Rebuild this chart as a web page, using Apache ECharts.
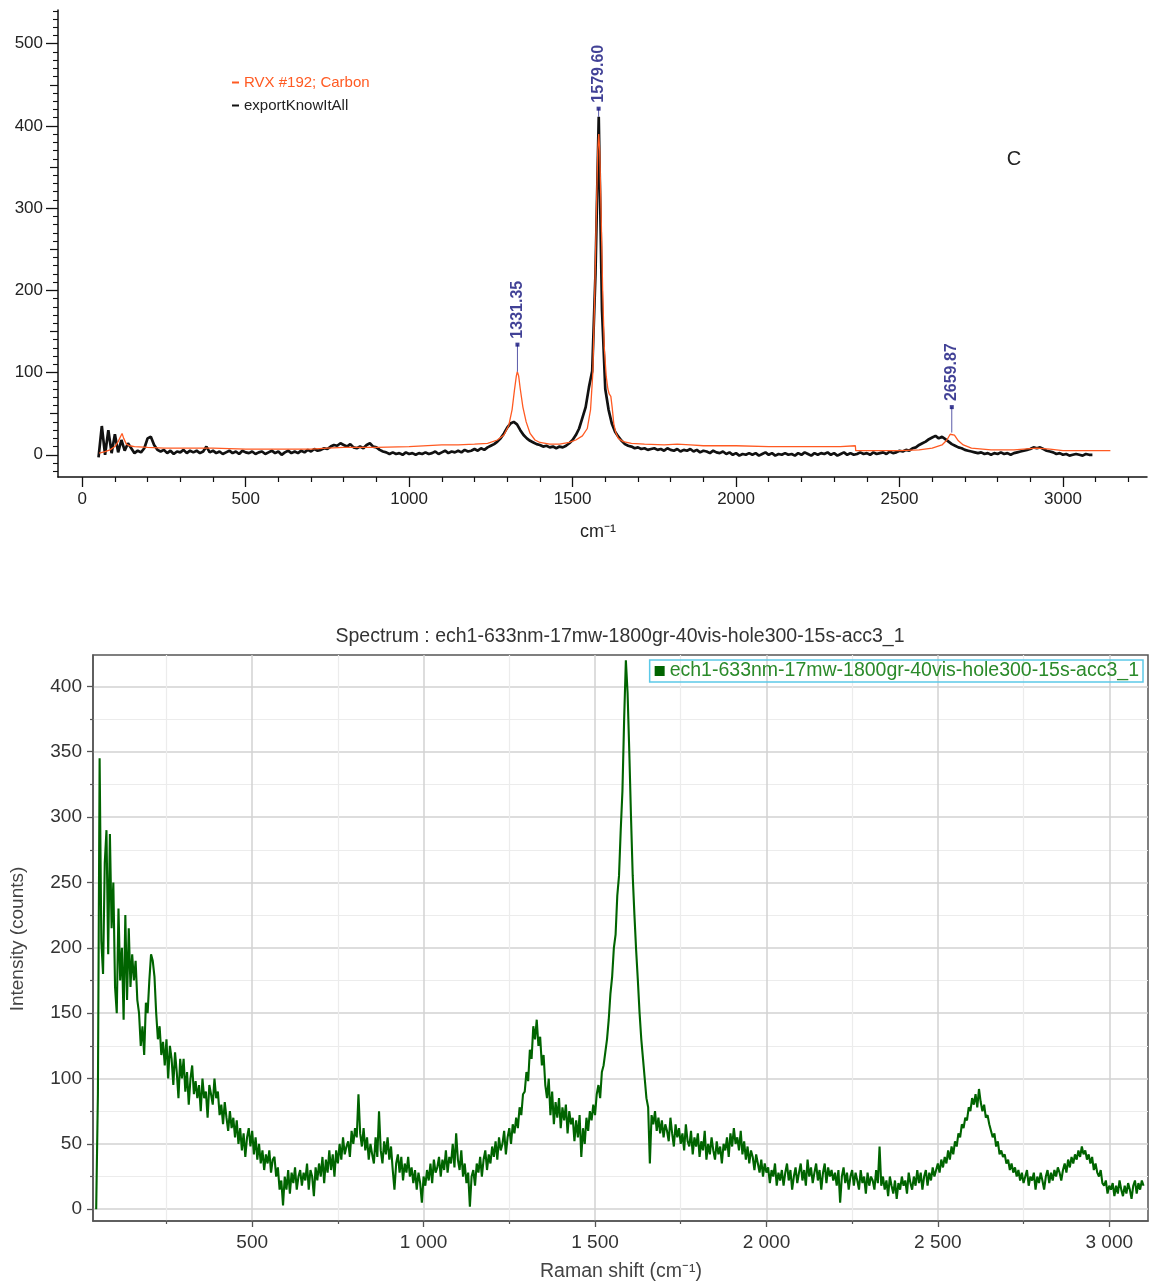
<!DOCTYPE html>
<html>
<head>
<meta charset="utf-8">
<script src="https://cdn.jsdelivr.net/npm/echarts@6/dist/echarts.min.js"></script>
<style>
html,body{margin:0;padding:0;background:#fff;}
#main{width:1149px;height:1284px;}
</style>
</head>
<body>
<div id="main"></div>
<script>
// ---------- DATA ----------
// Top chart: exportKnowItAll (black), sampled every 10 cm-1 from 50
const blackStart = 50, blackStep = 10;
const blackY = [
 -3, 35, 0, 30, 2, 25, 3, 18, 5, 14,
 8, 2, 5, 3, 8, 20, 22, 12, 6, 4,
 6, 2, 5, 1, 4, 3, 6, 2, 5, 3,
 5, 2, 4, 10, 3, 5, 2, 4, 1, 3,
 5, 2, 4, 1, 5, 3, 2, 4, 1, 3,
 4, 1, 3, 5, 2, 4, 0, 3, 5, 2,
 4, 2, 5, 3, 6, 4, 7, 5, 6, 8,
 7, 10, 12, 11, 14, 12, 10, 13, 9, 8,
 10, 8, 12, 14, 10, 9, 6, 4, 3, 1,
 3, 1, 2, 0, 3, 1, 2, 0, 2, 1,
 3, 1, 2, 4, 1, 3, 5, 2, 4, 3,
 5, 3, 6, 4, 5, 7, 5, 8, 6, 9,
 11, 13, 16, 20, 26, 33, 38, 40, 37, 30,
 24, 20, 17, 15, 13, 12, 10, 11, 9, 10,
 8, 10, 9, 11, 14, 18, 24, 32, 45, 58,
 82, 102, 220, 411, 176, 80, 55, 38, 28, 22,
 17, 13, 11, 10, 8, 9, 7, 8, 6, 7,
 8, 6, 7, 5, 8, 6, 5, 7, 4, 6,
 5, 7, 4, 6, 3, 5, 4, 2, 5, 3,
 2, 4, 1, 3, 0, 2, -1, 1, 0, 2,
 0, 2, -1, 1, 3, 0, 2, -1, 1, 0,
 2, 0, 1, -1, 2, 0, 3, 1, -1, 2,
 0, 2, 1, 3, 0, 2, -1, 1, 3, 0,
 2, 0, 1, 3, 1, 2, 0, 3, 1, 2,
 3, 1, 4, 2, 3, 5, 4, 6, 5, 8,
 9, 12, 14, 16, 19, 21, 23, 20, 22, 19,
 16, 13, 11, 9, 8, 6, 5, 4, 3, 2,
 3, 1, 2, 0, 2, 1, 3, 1, 2, 0,
 2, 3, 4, 5, 6, 7, 9, 8, 9, 7,
 5, 4, 3, 1, 2, 0, 1, -1, 0, 1,
 0, -1, 1, 0, 0
];
// Top chart: RVX #192; Carbon (orange) reference spectrum [cm-1, value]
const orangePts = [
 [52,2],[70,4],[85,6],[100,10],[110,16],[117,22],[122,26],[127,20],[135,13],[145,11],[160,10],
 [200,9],[250,8],[300,8],[400,8],[500,7],[600,7],[700,7],[750,8],[800,9],[850,9],[900,9],
 [1000,10],[1100,12],[1150,12],[1200,13],[1240,14],[1270,18],[1290,24],[1305,36],[1315,55],
 [1322,78],[1328,96],[1331,101],[1335,96],[1340,80],[1348,58],[1358,40],[1370,26],[1385,18],
 [1400,15],[1430,13],[1460,13],[1490,15],[1510,18],[1530,23],[1545,32],[1555,55],[1562,100],
 [1568,200],[1573,300],[1577,370],[1580,390],[1583,370],[1587,300],[1592,200],[1597,130],
 [1603,95],[1608,80],[1612,74],[1617,71],[1621,58],[1626,38],[1632,27],[1640,20],[1655,16],
 [1680,14],[1720,13],[1780,12],[1820,13],[1860,12],[1900,11],[2000,11],[2100,10],[2200,10],
 [2319,10],[2320,12],[2322,11],[2365,11],[2366,5],[2400,5],[2500,5],[2560,6],[2600,8],
 [2630,12],[2645,18],[2655,25],[2660,27],[2668,24],[2680,17],[2695,12],[2720,8],[2780,6],
 [2850,6],[2920,8],[2960,7],[3000,5],[3080,5],[3145,5]
];
// Peak annotations (top chart)
const peakX = [1331.35, 1579.60, 2659.87];
const peakBase = [101, 411, 27];
const peakMarkY = [134, 421, 58];

// Bottom chart: green spectrum sampled every 5 cm-1 from 45
const greenStart = 45, greenStep = 5;
const greenY = [
 0, 88, 345, 205, 180, 265, 290, 195, 287, 215,
 250, 170, 150, 230, 175, 200, 145, 225, 160, 215,
 170, 195, 175, 190, 160, 150, 125, 140, 118, 158,
 150, 175, 195, 190, 178, 150, 130, 140, 118, 128,
 110, 130, 100, 125, 115, 95, 120, 105, 85, 115,
 100, 115, 90, 105, 80, 100, 110, 88, 98, 85,
 95, 75, 100, 85, 90, 70, 95, 88, 80, 100,
 85, 90, 72, 80, 65, 82, 70, 60, 75, 62,
 70, 55, 68, 50, 62, 45, 58, 40, 55, 62,
 48, 60, 42, 55, 38, 50, 35, 45, 30, 42,
 35, 45, 28, 38, 40, 25, 32, 15, 22, 3,
 25, 15, 30, 12, 28, 20, 32, 15, 25, 30,
 18, 28, 22, 35, 15, 30, 25, 10, 32, 22,
 35, 25, 40, 20, 38, 28, 45, 30, 42, 25,
 45, 35, 50, 38, 55, 42, 48, 52, 40, 60,
 50, 62, 55, 88, 58, 48, 62, 45, 55, 38,
 50, 42, 35, 55, 40, 75, 45, 35, 52, 42,
 55, 38, 48, 30, 15, 35, 42, 28, 40, 22,
 35, 28, 40, 25, 32, 20, 30, 15, 28, 20,
 5, 25, 18, 30, 22, 35, 20, 38, 28, 32,
 40, 25, 38, 30, 45, 28, 40, 35, 50, 32,
 58, 38, 30, 45, 25, 35, 20, 28, 2, 25,
 30, 18, 35, 28, 40, 25, 38, 45, 30, 42,
 35, 48, 40, 52, 38, 55, 45, 50, 60, 42,
 55, 62, 50, 65, 58, 70, 62, 78, 72, 88,
 90, 105, 98, 122, 115, 140, 130, 145, 125, 132,
 110, 118, 95, 85, 100, 72, 90, 65, 82, 70,
 85, 62, 78, 68, 80, 58, 75, 65, 70, 52,
 68, 55, 72, 40, 62, 50, 70, 60, 75, 68,
 80, 72, 88, 95, 85, 105, 110, 120, 130, 145,
 165, 178, 200, 210, 240, 255, 290, 320, 375, 420,
 395, 350, 300, 255, 225, 198, 175, 150, 130, 115,
 100, 85, 78, 35, 72, 65, 75, 60, 70, 58,
 68, 55, 65, 60, 52, 70, 58, 48, 65, 55,
 62, 50, 58, 45, 65, 52, 48, 60, 42, 55,
 48, 58, 40, 52, 45, 60, 38, 50, 42, 55,
 45, 38, 52, 42, 48, 35, 50, 45, 55, 40,
 58, 48, 62, 50, 55, 45, 60, 42, 52, 38,
 48, 35, 45, 40, 30, 42, 35, 28, 38, 25,
 35, 28, 32, 20, 30, 25, 35, 18, 28, 22,
 30, 18, 28, 35, 22, 30, 15, 25, 32, 20,
 28, 35, 22, 30, 18, 38, 25, 32, 20, 28,
 35, 22, 30, 15, 28, 35, 20, 32, 25, 30,
 22, 28, 18, 30, 5, 25, 32, 20, 28, 15,
 25, 30, 18, 28, 22, 15, 30, 20, 25, 12,
 28, 18, 25, 22, 15, 30, 20, 48, 18, 25,
 15, 22, 10, 25, 18, 12, 22, 8, 20, 15,
 25, 18, 22, 12, 28, 20, 15, 25, 18, 30,
 20, 28, 15, 25, 30, 18, 28, 22, 32, 25,
 30, 35, 28, 38, 32, 40, 35, 45, 38, 48,
 42, 52, 48, 58, 55, 65, 62, 70, 68, 78,
 75, 85, 80, 88, 78, 92, 82, 75, 80, 70,
 72, 65, 60, 55, 58, 48, 52, 42, 45, 40,
 42, 35, 38, 30, 35, 28, 32, 25, 30, 22,
 28, 20, 25, 30, 18, 25, 22, 28, 15, 25,
 20, 28, 22, 15, 25, 30, 20, 28, 22, 30,
 25, 32, 28, 22, 30, 35, 28, 38, 32, 40,
 35, 42, 38, 45, 40, 48, 42, 45, 38, 42,
 35, 40, 30, 35, 28, 25, 30, 20, 18, 22,
 12, 18, 15, 20, 10, 18, 12, 22, 15, 10,
 18, 12, 20, 15, 8, 18, 22, 12, 20, 15,
 22, 18
];

// Tick values
const topXTicks = [0, 500, 1000, 1500, 2000, 2500, 3000];
const topXMinor = [100,200,300,400,600,700,800,900,1100,1200,1300,1400,1600,1700,1800,1900,2100,2200,2300,2400,2600,2700,2800,2900,3100,3200];
const topYTicks = [0, 100, 200, 300, 400, 500];
const topYMid = [50, 150, 250, 350, 450];
const topYMinor = [-20,-10,10,20,30,40,60,70,80,90,110,120,130,140,160,170,180,190,210,220,230,240,260,270,280,290,310,320,330,340,360,370,380,390,410,420,430,440,460,470,480,490,510,520,530,540];
const botXTicks = [500, 1000, 1500, 2000, 2500, 3000];
const botXMinor = [250, 750, 1250, 1750, 2250, 2750];
const botYTicks = [0, 50, 100, 150, 200, 250, 300, 350, 400];
const botYMinor = [25, 75, 125, 175, 225, 275, 325, 375];

const nameOrange = 'RVX #192; Carbon';
const nameBlack = 'exportKnowItAll';
const nameGreen = 'ech1-633nm-17mw-1800gr-40vis-hole300-15s-acc3_1';

// ---------- BUILD ----------
const blackData = blackY.map((v, i) => [blackStart + i * blackStep, v]);
const greenData = greenY.map((v, i) => [greenStart + i * greenStep, v]);

const TOPF = "'Liberation Sans','Helvetica','Arial',sans-serif";
const SANS = "'Liberation Sans','Helvetica','Arial',sans-serif";
const ORANGE = '#ff5a22';
const NAVY = '#12127c';
const GREEN = '#006400';

const chart = echarts.init(document.getElementById('main'), null, {renderer: 'canvas'});

const hiddenLine = {show: false};
const fmtSpace = v => String(v).replace(/\B(?=(\d{3})+(?!\d))/g, ' ');
const fmtPlain = v => String(v);

const peakLines = peakX.map((x, i) => ({
  type: 'line', xAxisIndex: 0, yAxisIndex: 0, silent: true,
  data: [[x, peakBase[i]], [x, peakMarkY[i]]],
  symbol: 'none', lineStyle: {color: '#5a5aa8', width: 1}, z: 5
}));

function xAx(grid, min, max, extra) {
  return Object.assign({gridIndex: grid, type: 'value', min: min, max: max, position: 'bottom'}, extra);
}
function yAx(grid, min, max, extra) {
  return Object.assign({gridIndex: grid, type: 'value', min: min, max: max, position: 'left'}, extra);
}

const option = {
  animation: false,
  backgroundColor: '#ffffff',
  grid: [
    {left: 58, top: 10, width: 1089, height: 467, show: false},
    {left: 93, top: 655, width: 1055, height: 566, show: true, borderColor: '#555', borderWidth: 1.5, backgroundColor: 'transparent'}
  ],
  legend: [
    {
      data: [
        {name: nameOrange, textStyle: {color: ORANGE}},
        {name: nameBlack, textStyle: {color: '#222'}}
      ],
      orient: 'vertical', left: 232, top: 75, padding: 0, itemGap: 8,
      icon: 'rect', itemWidth: 7, itemHeight: 2,
      textStyle: {fontSize: 15, fontFamily: TOPF}
    },
    {
      data: [nameGreen],
      orient: 'horizontal', right: 6, top: 660, padding: [1, 4, 1, 5],
      borderColor: '#5cc9e8', borderWidth: 1.5,
      icon: 'rect', itemWidth: 10, itemHeight: 10, itemGap: 6,
      textStyle: {fontSize: 19.5, fontFamily: SANS, color: '#2a8a2a'}
    }
  ],
  xAxis: [
    xAx(0, -74, 3257, {
      axisLine: {onZero: false, lineStyle: {color: '#111', width: 1.5}},
      axisTick: {customValues: topXTicks, length: 10, lineStyle: {color: '#111', width: 1.3}},
      axisLabel: {customValues: topXTicks, margin: 14, fontSize: 17, fontFamily: TOPF, color: '#222', formatter: fmtPlain},
      splitLine: hiddenLine
    }),
    xAx(0, -74, 3257, {
      axisLine: {show: false, onZero: false},
      axisTick: {customValues: topXMinor, length: 5, lineStyle: {color: '#111', width: 1.2}},
      axisLabel: {show: false}, splitLine: hiddenLine
    }),
    xAx(1, 35.7, 3113, {
      axisLine: {onZero: false, lineStyle: {color: '#555', width: 1.5}},
      axisTick: {customValues: botXTicks, length: 6, lineStyle: {color: '#555', width: 1.3}},
      axisLabel: {customValues: botXTicks, margin: 12, fontSize: 19, fontFamily: SANS, color: '#333', formatter: fmtSpace},
      splitLine: {show: true, lineStyle: {color: '#d2d2d2', width: 1.5}}
    }),
    xAx(1, 35.7, 3113, {
      axisLine: {show: false, onZero: false},
      axisTick: {customValues: botXMinor, length: 3, lineStyle: {color: '#555', width: 1.2}},
      axisLabel: {show: false},
      splitLine: {show: true, lineStyle: {color: '#ececec', width: 1.2}}
    })
  ],
  yAxis: [
    yAx(0, -27, 541, {
      axisLine: {show: true, onZero: false, lineStyle: {color: '#111', width: 1.5}},
      axisTick: {show: true, customValues: topYTicks, length: 12, lineStyle: {color: '#111', width: 1.3}},
      axisLabel: {customValues: topYTicks, margin: 15, fontSize: 17, fontFamily: TOPF, color: '#222', formatter: fmtPlain},
      splitLine: hiddenLine
    }),
    yAx(0, -27, 541, {
      axisLine: {show: false, onZero: false},
      axisTick: {show: true, customValues: topYMid, length: 8, lineStyle: {color: '#111', width: 1.2}},
      axisLabel: {show: false}, splitLine: hiddenLine
    }),
    yAx(0, -27, 541, {
      axisLine: {show: false, onZero: false},
      axisTick: {show: true, customValues: topYMinor, length: 5, lineStyle: {color: '#111', width: 1.1}},
      axisLabel: {show: false}, splitLine: hiddenLine
    }),
    yAx(1, -9, 424, {
      axisLine: {show: true, onZero: false, lineStyle: {color: '#555', width: 1.5}},
      axisTick: {show: true, customValues: botYTicks, length: 6, lineStyle: {color: '#555', width: 1.3}},
      axisLabel: {customValues: botYTicks, margin: 11, fontSize: 19, fontFamily: SANS, color: '#333'},
      splitLine: {show: true, lineStyle: {color: '#d2d2d2', width: 1.5}}
    }),
    yAx(1, -9, 424, {
      axisLine: {show: false, onZero: false},
      axisTick: {show: true, customValues: botYMinor, length: 3, lineStyle: {color: '#555', width: 1.2}},
      axisLabel: {show: false},
      splitLine: {show: true, lineStyle: {color: '#ececec', width: 1.2}}
    })
  ],
  series: [
    {
      name: nameBlack, type: 'line', xAxisIndex: 0, yAxisIndex: 0,
      data: blackData, showSymbol: false, symbol: 'none',
      lineStyle: {color: '#111', width: 2.7}, itemStyle: {color: '#111'}, z: 2
    },
    {
      name: nameOrange, type: 'line', xAxisIndex: 0, yAxisIndex: 0,
      data: orangePts, showSymbol: false, symbol: 'none',
      lineStyle: {color: ORANGE, width: 1.3}, itemStyle: {color: ORANGE}, z: 3
    },
    ...peakLines,
    {
      name: 'peaks', type: 'scatter', xAxisIndex: 0, yAxisIndex: 0,
      data: peakX.map((x, i) => [x, peakMarkY[i]]),
      symbol: 'rect', symbolSize: 4, itemStyle: {color: NAVY}, z: 6,
      label: {
        show: true, position: 'top', distance: 4, rotate: 90,
        align: 'left', verticalAlign: 'middle',
        formatter: p => p.value[0].toFixed(2),
        fontSize: 16, fontWeight: 'bold', fontFamily: SANS, color: NAVY
      }
    },
    {
      name: nameGreen, type: 'line', xAxisIndex: 2, yAxisIndex: 3,
      data: greenData, showSymbol: false, symbol: 'none',
      lineStyle: {color: GREEN, width: 2.1}, itemStyle: {color: GREEN}, z: 3
    }
  ],
  graphic: [
    {type: 'text', x: 598, y: 532, style: {text: 'cm\u207B\u00B9', font: "18px " + TOPF, fill: '#222', align: 'center', verticalAlign: 'middle'}},
    {type: 'text', x: 1014, y: 159, style: {text: 'C', font: "20px " + TOPF, fill: '#222', align: 'center', verticalAlign: 'middle'}},
    {type: 'text', x: 620, y: 637, style: {text: 'Spectrum : ' + nameGreen, font: "19.5px " + SANS, fill: '#333', align: 'center', verticalAlign: 'middle'}},
    {type: 'text', x: 621, y: 1272, style: {text: 'Raman shift (cm\u207B\u00B9)', font: "19.5px " + SANS, fill: '#444', align: 'center', verticalAlign: 'middle'}},
    {type: 'text', x: 18, y: 939, rotation: Math.PI / 2, style: {text: 'Intensity (counts)', font: "19px " + SANS, fill: '#444', align: 'center', verticalAlign: 'middle'}}
  ]
};
chart.setOption(option);
</script>
</body>
</html>
